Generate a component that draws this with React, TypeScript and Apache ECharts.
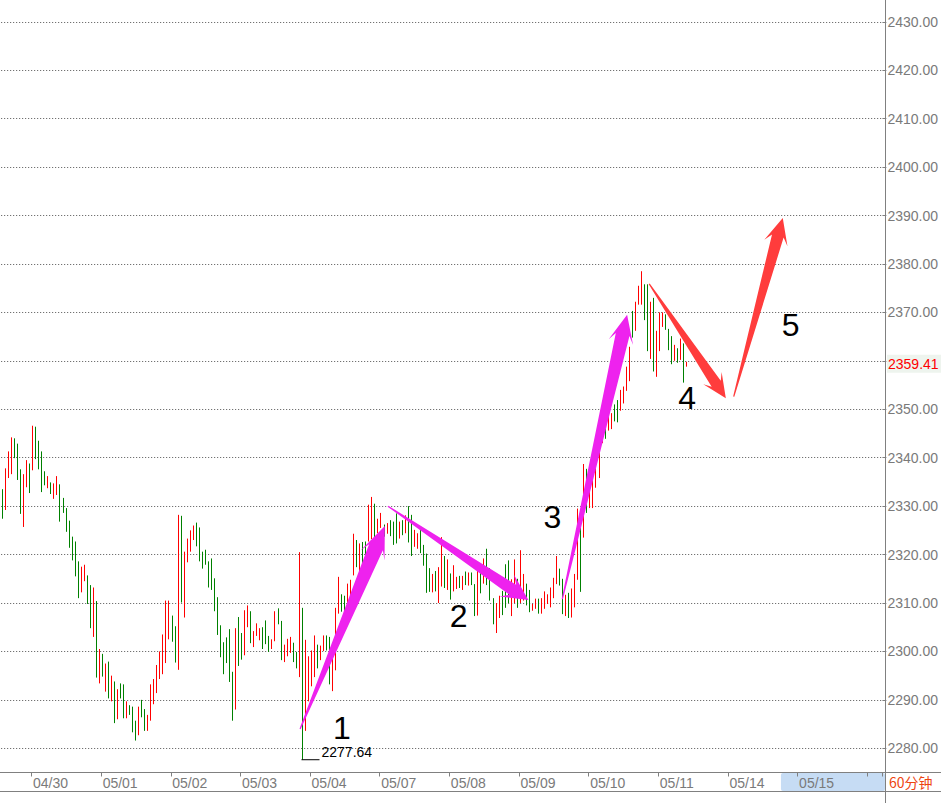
import React, { useEffect, useRef } from "react";
import * as echarts from "echarts";

// ---------- data ----------
const dayLabels = ["04/29", "04/30", "05/01", "05/02", "05/03", "05/04", "05/07", "05/08", "05/09", "05/10", "05/11", "05/14", "05/15", "05/16"];
const barsPerDay = 23;
const firstDayBars = 10; // bars of 04/29 still visible at the left edge
const totalSlots = 291; // hourly slots shown on the x axis

const lows = [
  2327.4, 2329.2, 2335.8, 2336.6, 2339.9, 2335.4, 2328.4, 2325.7, 2333.9, 2332.7,
  2337.4, 2339.7, 2337.6, 2332.9, 2334.3, 2333.7, 2332.5, 2331.5, 2332.3, 2326.8,
  2328.6, 2324.7, 2321.4, 2318.8, 2315.5, 2311.0, 2312.2, 2314.5, 2309.8, 2304.8,
  2303.0, 2294.6, 2293.4, 2294.8, 2291.7, 2290.3, 2289.7, 2285.2, 2286.0, 2290.3,
  2286.2, 2286.2, 2286.9, 2283.3, 2281.6, 2282.7, 2286.4, 2283.6, 2283.6, 2285.7,
  2289.1, 2291.4, 2294.3, 2295.3, 2297.6, 2302.5, 2302.0, 2297.7, 2296.2, 2310.1,
  2307.0, 2318.4, 2320.6, 2323.0, 2321.7, 2318.6, 2317.1, 2317.9, 2313.2, 2312.7,
  2308.3, 2303.4, 2298.8, 2295.3, 2297.6, 2293.7, 2285.7, 2288.0, 2297.0, 2298.3,
  2299.2, 2305.0, 2301.7, 2300.9, 2303.2, 2302.3, 2300.5, 2301.5, 2299.9, 2300.5,
  2302.1, 2305.6, 2298.2, 2297.8, 2299.0, 2299.7, 2297.8, 2296.5, 2294.7, 2277.64,
  2283.6, 2289.7, 2292.8, 2294.7, 2296.5, 2298.2, 2300.1, 2300.2, 2293.2, 2291.8,
  2296.1, 2307.8, 2308.2, 2308.2, 2309.4, 2310.6, 2315.7, 2317.4, 2315.8, 2317.3,
  2318.7, 2322.7, 2323.2, 2323.5, 2324.4, 2325.5, 2323.7, 2324.3, 2323.8, 2322.0,
  2322.3, 2323.3, 2324.0, 2324.4, 2322.5, 2319.7, 2321.6, 2321.2, 2320.3, 2317.7,
  2312.1, 2312.3, 2312.2, 2312.4, 2310.0, 2313.4, 2313.1, 2312.7, 2310.7, 2312.4,
  2312.9, 2313.1, 2312.7, 2313.7, 2313.6, 2313.7, 2307.3, 2307.4, 2312.0, 2314.0,
  2313.7, 2310.5, 2305.6, 2303.8, 2306.9, 2307.5, 2309.0, 2310.0, 2307.3, 2310.0,
  2309.0, 2310.0, 2310.5, 2309.5, 2308.1, 2308.4, 2308.8, 2307.8, 2307.8, 2308.8,
  2309.8, 2309.1, 2311.0, 2313.9, 2313.6, 2307.7, 2307.3, 2306.9, 2307.0, 2309.1,
  2314.8, 2312.3, 2323.5, 2328.6, 2329.6, 2329.6, 2333.8, 2335.8, 2343.0, 2343.9,
  2345.6, 2345.9, 2347.5, 2347.3, 2349.7, 2351.2, 2353.8, 2355.8, 2364.8, 2366.2,
  2371.6, 2371.6, 2368.4, 2362.0, 2360.4, 2357.8, 2356.7, 2362.0, 2367.0, 2366.4,
  2362.2, 2359.3, 2360.0, 2359.6, 2360.2, 2355.5, 2358.8,
];

const highs = [
  2333.5, 2337.8, 2341.3, 2344.2, 2344.0, 2342.9, 2337.6, 2336.6, 2339.5, 2338.8,
  2346.6, 2346.4, 2343.5, 2341.3, 2337.2, 2336.2, 2334.9, 2334.7, 2336.2, 2334.5,
  2331.7, 2329.6, 2327.0, 2323.7, 2322.7, 2318.6, 2317.5, 2317.9, 2315.7, 2313.7,
  2313.2, 2310.4, 2300.5, 2299.5, 2297.5, 2297.9, 2295.0, 2293.8, 2292.2, 2293.4,
  2293.2, 2289.7, 2288.9, 2288.6, 2285.7, 2288.6, 2290.0, 2288.1, 2286.9, 2293.2,
  2294.3, 2297.2, 2300.0, 2303.5, 2310.5, 2310.5, 2307.4, 2305.2, 2328.2, 2328.0,
  2320.6, 2323.3, 2325.0, 2326.0, 2326.6, 2325.6, 2320.6, 2321.0, 2318.6, 2319.2,
  2315.1, 2311.2, 2305.4, 2301.9, 2302.9, 2304.6, 2295.8, 2304.8, 2307.1, 2303.8,
  2308.5, 2309.5, 2308.3, 2304.2, 2305.8, 2304.8, 2305.0, 2306.4, 2303.2, 2302.5,
  2308.3, 2308.9, 2306.3, 2301.4, 2302.6, 2303.0, 2301.8, 2299.9, 2320.5, 2309.0,
  2302.4, 2299.0, 2300.2, 2303.3, 2301.4, 2301.2, 2303.3, 2303.3, 2303.0, 2301.1,
  2309.0, 2315.4, 2311.8, 2311.5, 2314.0, 2314.8, 2324.3, 2323.0, 2322.3, 2322.6,
  2322.7, 2330.3, 2331.9, 2330.5, 2327.4, 2328.6, 2326.2, 2326.5, 2327.1, 2326.8,
  2328.5, 2326.8, 2327.1, 2328.1, 2330.0, 2328.2, 2325.1, 2324.4, 2325.3, 2322.0,
  2320.2, 2317.2, 2316.0, 2316.6, 2317.4, 2323.6, 2319.7, 2319.0, 2316.1, 2317.8,
  2315.4, 2315.6, 2315.6, 2316.5, 2316.3, 2316.3, 2313.9, 2317.1, 2316.5, 2319.2,
  2321.2, 2317.2, 2311.0, 2310.0, 2311.5, 2312.5, 2318.0, 2318.8, 2314.9, 2319.0,
  2315.0, 2320.9, 2316.0, 2314.0, 2312.7, 2309.8, 2310.9, 2310.9, 2311.0, 2312.4,
  2311.8, 2313.2, 2315.2, 2319.7, 2317.1, 2315.0, 2311.7, 2312.1, 2313.0, 2316.0,
  2329.5, 2326.7, 2338.7, 2337.7, 2335.1, 2337.8, 2339.5, 2342.0, 2346.3, 2347.1,
  2348.5, 2349.2, 2351.0, 2351.9, 2354.0, 2354.7, 2358.8, 2362.9, 2370.3, 2372.2,
  2375.5, 2378.5, 2375.8, 2375.8, 2372.2, 2373.0, 2366.2, 2370.0, 2370.0, 2369.6,
  2366.6, 2365.1, 2363.3, 2362.6, 2364.6, 2363.6, 2359.8,
];

// 1 = bar closed up (red), 0 = closed down (green)
const rising = [
  0, 1, 1, 1, 0, 0, 0, 1, 1, 0,
  1, 0, 0, 0, 0, 1, 0, 1, 1, 0,
  0, 0, 0, 0, 0, 0, 1, 1, 0, 0,
  1, 0, 1, 0, 1, 0, 1, 0, 1, 0,
  0, 1, 0, 0, 0, 1, 0, 0, 1, 1,
  1, 1, 1, 1, 1, 1, 0, 0, 1, 0,
  1, 1, 1, 1, 0, 0, 0, 0, 0, 0,
  0, 0, 0, 0, 0, 0, 0, 1, 0, 0,
  1, 1, 0, 1, 1, 1, 0, 0, 0, 1,
  1, 0, 0, 1, 1, 1, 0, 0, 1, 0,
  1, 1, 1, 1, 0, 1, 1, 0, 0, 1,
  1, 1, 0, 0, 1, 1, 1, 0, 1, 0,
  0, 1, 1, 0, 1, 1, 0, 1, 0, 0,
  0, 1, 0, 1, 0, 0, 1, 1, 0, 0,
  0, 0, 1, 0, 1, 1, 0, 1, 0, 1,
  1, 0, 1, 0, 1, 0, 0, 1, 0, 1,
  0, 0, 0, 1, 1, 0, 0, 0, 1, 1,
  0, 1, 1, 0, 0, 1, 1, 0, 1, 1,
  1, 1, 1, 1, 0, 0, 1, 0, 1, 1,
  1, 0, 1, 0, 1, 1, 1, 1, 1, 0,
  1, 1, 0, 0, 1, 1, 1, 1, 0, 1,
  1, 1, 0, 0, 1, 0, 1, 1, 1, 0,
  0, 0, 1, 0, 1, 0, 1,
];

const yMin = 2280;
const yMax = 2430;
const yStep = 10;
const lastPrice = 2359.41;
const lowIndex = 99;
const lowValue = 2277.64;
const periodLabel = "60分钟";

// wave annotations: [slot index, price]
const arrowFrom = [[98.2, 2284.0], [127.2, 2330.0], [184.8, 2310.8], [213.5, 2375.9], [241.4, 2352.6]];
const arrowTo = [[126.2, 2325.9], [173.6, 2310.6], [206.2, 2369.5], [238.8, 2352.3], [257.6, 2389.5]];
const waveNames = ["1", "2", "3", "4", "5"];
const wavePos = [[112.0, 2284.2], [150.6, 2307.3], [181.5, 2327.8], [226.0, 2352.3], [260.2, 2367.4]];

// ---------- layout / style ----------
const W = 941;
const H = 803;
const GRID = { left: 1.18, right: 56, top: 21.8, bottom: 54.7 };
const AXIS_X = W - GRID.right;
const XLINE_Y = 772.5;
const XLINE2_Y = 791.5;
const FONT = "'Liberation Sans', Arial, sans-serif";
const GRAY = "#808080";
const MAGENTA = "#EE22EE";
const RED_ARROW = "#FF3C3C";
const arrowColors = [MAGENTA, MAGENTA, MAGENTA, RED_ARROW, RED_ARROW];
const arrowHead = [32, 26, 28, 24, 26];
const arrowHeadW = [13, 13, 12.5, 11, 12];
const arrowNeckW = [7.5, 6, 7, 5.5, 6];

function slotDay(i: number): number {
  return i < firstDayBars ? 0 : 1 + Math.floor((i - firstDayBars) / barsPerDay);
}
function isDayStart(i: number): boolean {
  return i >= firstDayBars && (i - firstDayBars) % barsPerDay === 0;
}

const categories: string[] = [];
for (let i = 0; i < totalSlots; i++) {
  const hour = i < firstDayBars ? i : (i - firstDayBars) % barsPerDay;
  categories.push(`${dayLabels[slotDay(i)]} ${hour}`);
}

const ohlc = lows.map((lo, i) => {
  const hi = highs[i];
  return rising[i] ? [lo, hi, lo, hi] : [hi, lo, lo, hi];
});

function arrowPoints(t: number[], p: number[], lh: number, wh: number, ws: number) {
  const dx = p[0] - t[0];
  const dy = p[1] - t[1];
  const len = Math.hypot(dx, dy);
  const ux = dx / len, uy = dy / len;
  const nx = -uy, ny = ux;
  const neck = [p[0] - ux * lh * 0.72, p[1] - uy * lh * 0.72];
  const barb = [p[0] - ux * lh, p[1] - uy * lh];
  const wt = 0.6;
  return [
    [t[0] + nx * wt, t[1] + ny * wt],
    [neck[0] + nx * ws, neck[1] + ny * ws],
    [barb[0] + nx * wh, barb[1] + ny * wh],
    [p[0], p[1]],
    [barb[0] - nx * wh, barb[1] - ny * wh],
    [neck[0] - nx * ws, neck[1] - ny * ws],
    [t[0] - nx * wt, t[1] - ny * wt],
  ];
}

export default function App() {
  const ref = useRef<HTMLDivElement>(null);

  useEffect(() => {
    document.body.style.margin = "0";
    const chart = echarts.init(ref.current!, null, { renderer: "svg", width: W, height: H });
    chart.setOption({
      animation: false,
      backgroundColor: "#ffffff",
      grid: { left: GRID.left, right: GRID.right, top: GRID.top, bottom: GRID.bottom },
      xAxis: {
        type: "category",
        data: categories,
        boundaryGap: true,
        offset: XLINE_Y - (H - GRID.bottom),
        axisLine: { show: false },
        axisTick: {
          show: true,
          length: 4,
          interval: (i: number) => isDayStart(i),
          lineStyle: { color: GRAY, width: 1 },
        },
        axisLabel: {
          interval: (i: number) => isDayStart(i) && slotDay(i) <= 12,
          formatter: (v: string) => v.split(" ")[0],
          color: "#7a7a7a",
          fontSize: 14,
          fontFamily: FONT,
          align: "left",
          margin: 3,
          hideOverlap: false,
        },
        splitLine: { show: false },
      },
      yAxis: {
        type: "value",
        position: "right",
        min: yMin,
        max: yMax,
        interval: yStep,
        axisLine: { show: false },
        axisTick: { show: true, length: 4, inside: false, lineStyle: { color: GRAY } },
        axisLabel: {
          formatter: (v: number) => (v === 2360 ? "" : v.toFixed(2)),
          color: "#7a7a7a",
          fontSize: 14,
          fontFamily: FONT,
          margin: 5,
        },
        splitLine: { show: true, lineStyle: { color: "#555555", width: 1, type: [1, 2] } },
      },
      series: [
        {
          type: "candlestick",
          data: ohlc,
          barWidth: 1,
          clip: false,
          itemStyle: {
            color: "#ff0000",
            color0: "#008000",
            borderColor: "#ff0000",
            borderColor0: "#008000",
            borderWidth: 1,
          },
        },
      ],
    });

    const toPx = (idx: number, val: number) =>
      chart.convertToPixel({ xAxisIndex: 0, yAxisIndex: 0 }, [idx, val]) as number[];
    const p0 = toPx(0, yMin);
    const p100 = toPx(100, yMax);
    const bandPx = (p100[0] - p0[0]) / 100;
    const yPx = (v: number) => p0[1] + ((v - yMin) / (yMax - yMin)) * (p100[1] - p0[1]);
    const pt = (idx: number, v: number) => [p0[0] + idx * bandPx, yPx(v)];

    const graphics: any[] = [];
    // axis frame
    graphics.push({ type: "line", shape: { x1: AXIS_X + 0.5, y1: 0, x2: AXIS_X + 0.5, y2: H }, style: { stroke: GRAY, lineWidth: 1 }, z: 20 });
    graphics.push({ type: "line", shape: { x1: 0, y1: XLINE_Y, x2: W, y2: XLINE_Y }, style: { stroke: GRAY, lineWidth: 1 }, z: 20 });
    graphics.push({ type: "line", shape: { x1: 0, y1: XLINE2_Y, x2: W, y2: XLINE2_Y }, style: { stroke: GRAY, lineWidth: 1 }, z: 20 });
    // highlighted future period box
    const boxLeft = pt(257, yMin)[0];
    graphics.push({
      type: "rect",
      shape: { x: boxLeft, y: XLINE_Y + 0.5, width: AXIS_X - boxLeft, height: XLINE2_Y - XLINE_Y - 1, r: 2 },
      style: { fill: "#C6DCF4" },
      z: -5,
    });
    // period label
    graphics.push({
      type: "text",
      x: AXIS_X + 4,
      y: (XLINE_Y + XLINE2_Y) / 2,
      style: { text: periodLabel, fill: "#EE4411", fontSize: 14, fontFamily: "'Noto Sans CJK SC', sans-serif", verticalAlign: "middle", align: "left" },
      z: 30,
    });
    // last price marker
    const lpY = yPx(lastPrice);
    graphics.push({
      type: "rect",
      shape: { x: AXIS_X + 2, y: lpY - 9, width: W - AXIS_X - 2, height: 18 },
      style: { fill: "#EEF4EE" },
      z: 25,
    });
    graphics.push({
      type: "text",
      x: AXIS_X + 3,
      y: lpY,
      style: { text: lastPrice.toFixed(2), fill: "#ff0000", fontSize: 14, fontFamily: FONT, verticalAlign: "middle", align: "left" },
      z: 26,
    });
    // lowest price marker
    const lp = pt(lowIndex, lowValue);
    const lx = Math.round(lp[0]) + 0.5;
    graphics.push({ type: "line", shape: { x1: lx - 1, y1: lp[1], x2: lx + 17, y2: lp[1] }, style: { stroke: "#000", lineWidth: 1 }, z: 30 });
    graphics.push({
      type: "text",
      x: lx + 19,
      y: lp[1] - 1,
      style: { text: lowValue.toFixed(2), fill: "#000", fontSize: 14, fontFamily: FONT, verticalAlign: "bottom", align: "left" },
      z: 30,
    });
    // wave arrows
    arrowFrom.forEach((f, k) => {
      const t = pt(f[0], f[1]);
      const p = pt(arrowTo[k][0], arrowTo[k][1]);
      graphics.push({
        type: "polygon",
        shape: { points: arrowPoints(t, p, arrowHead[k], arrowHeadW[k], arrowNeckW[k]) },
        style: { fill: arrowColors[k] },
        z: 40,
      });
    });
    // wave numbers
    waveNames.forEach((name, k) => {
      const p = pt(wavePos[k][0], wavePos[k][1]);
      graphics.push({
        type: "text",
        x: p[0],
        y: p[1],
        style: { text: name, fill: "#000", fontSize: 32, fontFamily: FONT, align: "center", verticalAlign: "middle" },
        z: 45,
      });
    });

    chart.setOption({ graphic: graphics });
    return () => chart.dispose();
  }, []);

  return (
    <div
      ref={ref}
      style={{ position: "absolute", left: 0, top: 0, width: W, height: H, background: "#fff" }}
    />
  );
}
